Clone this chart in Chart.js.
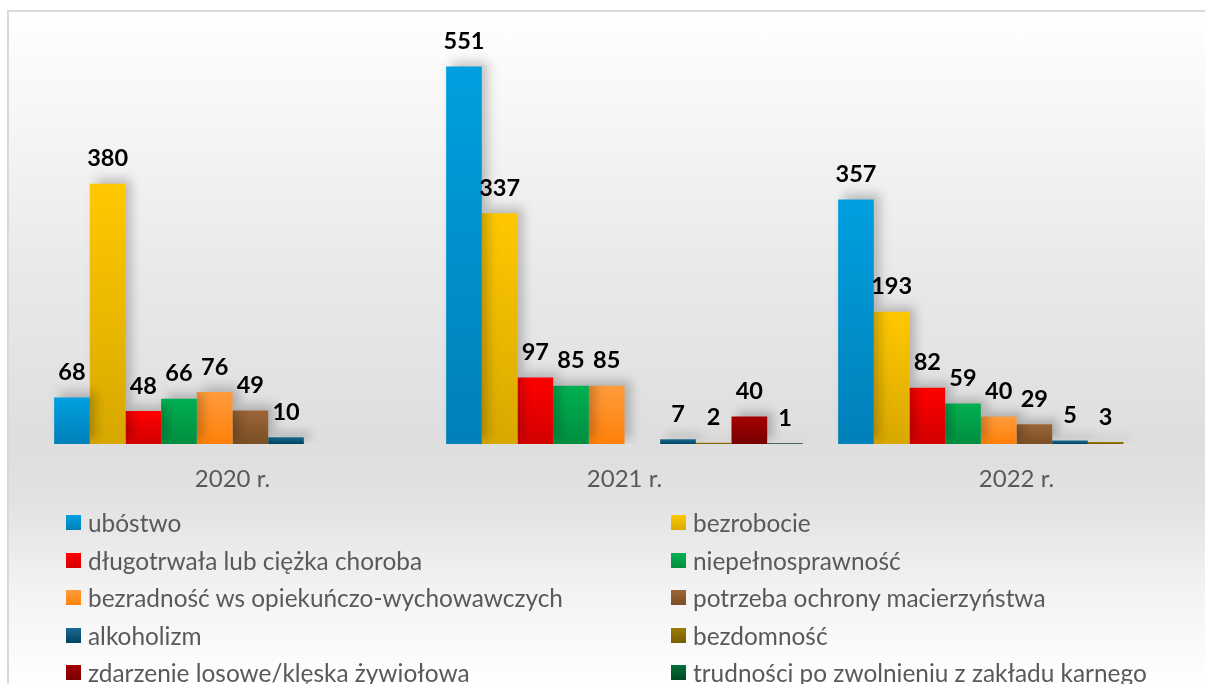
<!DOCTYPE html>
<html lang="pl">
<head>
<meta charset="utf-8">
<script src="https://cdn.jsdelivr.net/npm/chart.js@4.4.0/dist/chart.umd.min.js"></script>
<style>
  html, body { margin: 0; padding: 0; background: #ffffff; overflow: hidden; }
  #wrap { position: relative; width: 1205px; height: 684px; overflow: hidden; background: #ffffff; }
  #frame {
    position: absolute; left: 7px; top: 10px; width: 1240px; height: 700px;
    border-left: 2px solid #d9d9d9; border-top: 2px solid #d9d9d9;
    background: linear-gradient(to bottom, #ffffff 0px, #f4f4f4 130px, #e9e9e9 260px, #dedede 430px, #e2e2e2 490px, #f3f3f3 580px, #ffffff 674px);
  }
  #chart { position: absolute; left: 0; top: 0; }
  #legend { position: absolute; left: 0; top: 0; width: 1205px; height: 684px; pointer-events: none; }
  .item { position: absolute; display: flex; align-items: center; height: 30px; font-family: Lato, "Open Sans", sans-serif; font-size: 24.4px; color: #595959; white-space: nowrap; }
  .mk { width: 15px; height: 15px; margin-right: 7px; flex: none; }
</style>
</head>
<body>
<div id="wrap">
  <div id="frame"></div>
  <canvas id="chart" width="1240" height="500" style="width:1240px;height:500px;"></canvas>
  <div id="legend"></div>
</div>
<script>
// ---- data ----
const categories = ['2020 r.', '2021 r.', '2022 r.'];
const seriesNames = [
  'ubóstwo',
  'bezrobocie',
  'długotrwała lub ciężka choroba',
  'niepełnosprawność',
  'bezradność ws opiekuńczo-wychowawczych',
  'potrzeba ochrony macierzyństwa',
  'alkoholizm',
  'bezdomność',
  'zdarzenie losowe/klęska żywiołowa',
  'trudności po zwolnieniu z zakładu karnego'
];
const ubostwo = [68, 551, 357];
const bezrobocie = [380, 337, 193];
const choroba = [48, 97, 82];
const niepelnosprawnosc = [66, 85, 59];
const bezradnosc = [76, 85, 40];
const macierzynstwo = [49, null, 29];
const alkoholizm = [10, 7, 5];
const bezdomnosc = [null, 2, 3];
const zdarzenie = [null, 40, null];
const trudnosci = [null, 1, null];
const seriesValues = [ubostwo, bezrobocie, choroba, niepelnosprawnosc, bezradnosc,
  macierzynstwo, alkoholizm, bezdomnosc, zdarzenie, trudnosci];
const yMax = 600;

// ---- styles ----
const colorsTop = ['#009fe0', '#ffc800', '#ff0000', '#00b050', '#ff9c3c', '#9c6636', '#1a6a90', '#9c7c00', '#a40000', '#00703a'];
const colorsBot = ['#0080b8', '#d8a800', '#d20000', '#008e40', '#ff8008', '#7a4e26', '#004460', '#785e00', '#780000', '#004a22'];

function barFill(i) {
  return function (ctx) {
    const chart = ctx.chart;
    if (!chart.chartArea || ctx.raw == null) return colorsTop[i];
    const y = chart.scales.y;
    const top = y.getPixelForValue(ctx.raw);
    const base = y.getPixelForValue(0);
    if (Math.abs(base - top) < 1) return colorsBot[i];
    const g = chart.ctx.createLinearGradient(0, top, 0, base);
    g.addColorStop(0, colorsTop[i]);
    g.addColorStop(1, colorsBot[i]);
    return g;
  };
}

const datasets = seriesNames.map((name, i) => ({
  label: name,
  data: seriesValues[i],
  backgroundColor: barFill(i),
  borderWidth: 0,
  categoryPercentage: 0.91,
  barPercentage: 1.0
}));

const shadowPlugin = {
  id: 'shadow',
  beforeDatasetsDraw(chart) {
    const c = chart.ctx;
    c.save();
    c.shadowColor = 'rgba(0,0,0,0.22)';
    c.shadowBlur = 10;
    c.shadowOffsetX = 6;
    c.shadowOffsetY = -5;
  },
  afterDatasetsDraw(chart) {
    chart.ctx.restore();
    const c = chart.ctx;
    c.save();
    c.font = 'bold 23.5px Lato, "Open Sans", sans-serif';
    c.fillStyle = '#000000';
    c.textAlign = 'center';
    c.textBaseline = 'middle';
    chart.data.datasets.forEach((ds, di) => {
      const meta = chart.getDatasetMeta(di);
      meta.data.forEach((el, j) => {
        const v = ds.data[j];
        if (v == null) return;
        c.fillText(String(v), el.x, el.y - 25);
      });
    });
    c.restore();
  }
};

new Chart(document.getElementById('chart'), {
  type: 'bar',
  data: { labels: categories, datasets },
  options: {
    responsive: false,
    animation: false,
    events: [],
    layout: { padding: { left: 36.5, right: 27.5, top: 33, bottom: 0 } },
    plugins: { legend: { display: false }, tooltip: { enabled: false } },
    scales: {
      x: {
        grid: { display: false, drawTicks: false },
        border: { display: false },
        ticks: { color: '#595959', font: { family: 'Lato, "Open Sans", sans-serif', size: 24 }, padding: 21 },
        afterFit(scale) { scale.height = 56; }
      },
      y: { display: false, min: 0, max: yMax }
    }
  },
  plugins: [shadowPlugin]
});

// ---- legend (two columns) ----
const legend = document.getElementById('legend');
seriesNames.forEach((name, i) => {
  const col = i % 2, row = Math.floor(i / 2);
  const d = document.createElement('div');
  d.className = 'item';
  d.style.left = (col === 0 ? 66 : 671) + 'px';
  d.style.top = (522.5 + row * 37.5 - 15) + 'px';
  const m = document.createElement('span');
  m.className = 'mk';
  m.style.background = 'linear-gradient(to bottom, ' + colorsTop[i] + ', ' + colorsBot[i] + ')';
  const t = document.createElement('span');
  t.textContent = name;
  d.appendChild(m); d.appendChild(t);
  legend.appendChild(d);
});
</script>
</body>
</html>
